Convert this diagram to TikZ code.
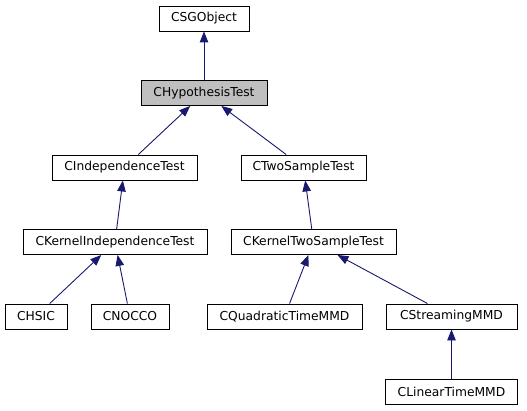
\documentclass[tikz,border=0pt]{standalone}
\usepackage{fontspec}
\setmainfont{DejaVu Sans}
\usetikzlibrary{arrows.meta}

\definecolor{midnightblue}{RGB}{25,25,112}
\definecolor{selgray}{RGB}{191,191,191}

\begin{document}
\begin{tikzpicture}[
    x=1pt, y=-1pt,
    class/.style={draw, line width=0.9pt, fill=white, minimum height=25pt, inner sep=0pt, font=\fontsize{12.3}{14}\selectfont},
    edge/.style={draw, line width=0.9pt, color=midnightblue, -{Triangle[length=11pt, width=8.5pt]}}
]
\useasboundingbox (0,0) rectangle (527,411);

% Define node positions
\node[class, minimum width=90pt] (CSGObject) at (204, 18.5) {CSGObject};
\node[class, minimum width=126pt, fill=selgray] (CHypothesisTest) at (204, 93) {CHypothesisTest};
\node[class, minimum width=145pt] (CIndependenceTest) at (124.5, 167.5) {CIndependenceTest};
\node[class, minimum width=125pt] (CTwoSampleTest) at (303.5, 167.5) {CTwoSampleTest};
\node[class, minimum width=184pt] (CKernelIndependenceTest) at (115, 242) {CKernelIndependenceTest};
\node[class, minimum width=165pt] (CKernelTwoSampleTest) at (313.5, 242) {CKernelTwoSampleTest};
\node[class, minimum width=62pt] (CHSIC) at (36, 316.5) {CHSIC};
\node[class, minimum width=78pt] (CNOCCO) at (130, 316.5) {CNOCCO};
\node[class, minimum width=155pt] (CQuadraticTimeMMD) at (284.5, 316.5) {CQuadraticTimeMMD};
\node[class, minimum width=131pt] (CStreamingMMD) at (451.5, 316.5) {CStreamingMMD};
\node[class, minimum width=132pt] (CLinearTimeMMD) at (451.5, 391.5) {CLinearTimeMMD};

% Draw inheritance edges (child to parent)
\draw[edge] (CHypothesisTest) -- (CSGObject);
\draw[edge] (CIndependenceTest) -- (CHypothesisTest);
\draw[edge] (CTwoSampleTest) -- (CHypothesisTest);
\draw[edge] (CKernelIndependenceTest) -- (CIndependenceTest);
\draw[edge] (CKernelTwoSampleTest) -- (CTwoSampleTest);
\draw[edge] (CHSIC) -- (CKernelIndependenceTest);
\draw[edge] (CNOCCO) -- (CKernelIndependenceTest);
\draw[edge] (CQuadraticTimeMMD) -- (CKernelTwoSampleTest);
\draw[edge] (CStreamingMMD) -- (CKernelTwoSampleTest);
\draw[edge] (CLinearTimeMMD) -- (CStreamingMMD);

\end{tikzpicture}
\end{document}
